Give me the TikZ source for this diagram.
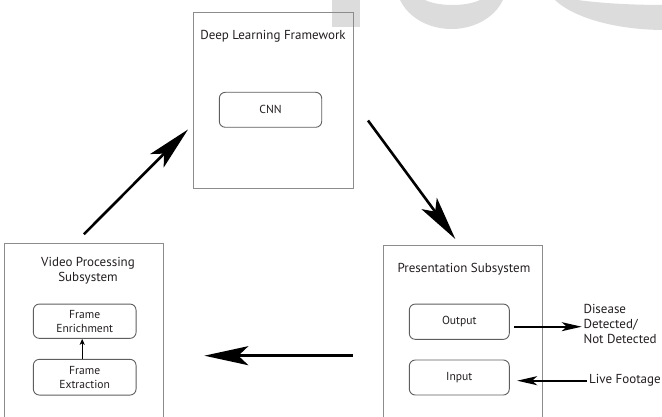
\documentclass[tikz,border=0pt]{standalone}
\usepackage{fontspec}
\setmainfont{PT Sans}
\usetikzlibrary{arrows.meta}
\definecolor{framegray}{HTML}{8C8C8C}
\definecolor{boxgray}{HTML}{5E5E5E}
\definecolor{inkc}{HTML}{231F20}
\definecolor{markgray}{HTML}{DCDCDC}
\begin{document}
\begin{tikzpicture}[x=1pt,y=-1pt,
  txt/.style={font=\fontsize{13}{15}\selectfont, text=inkc, inner sep=0pt, align=center},
  panel/.style={draw=framegray, line width=1pt, inner sep=0pt, anchor=north west},
  inbox/.style={draw=boxgray, line width=0.9pt, rounded corners=6pt, inner sep=0pt,
    font=\fontsize{11.6}{14}\selectfont, text=inkc, align=center},
  bigarrow/.style={draw=black, line width=2.6pt, -{Stealth[length=44pt, width=19pt, inset=10pt]}},
  smallarrow/.style={draw=black, line width=1.6pt, -{Stealth[length=20pt, width=9pt, inset=5pt]}},
  tinyarrow/.style={draw=black, line width=1pt, -{Stealth[length=6pt, width=5pt, inset=1.5pt]}}]
% page frame
\clip (0,0) rectangle (662,417);
\fill[white] (0,0) rectangle (662,417);
% faint background mark
\fill[markgray] (332,0) rectangle (360,27);
\fill[markgray, even odd rule] (451.5,-16) ellipse [x radius=55, y radius=45]
  (452.5,-7) ellipse [x radius=34, y radius=12];
\fill[markgray, even odd rule] (665,-20) ellipse [x radius=120, y radius=50]
  (665,-10) ellipse [x radius=117, y radius=15];

% subsystem panels
\node[panel, minimum width=160pt, minimum height=176pt] (dlf) at (193,12) {};
\node[panel, minimum width=158.7pt, minimum height=190pt] (vps) at (4,243.3) {};
\node[panel, minimum width=159pt, minimum height=190pt] (ps) at (383.3,245) {};

% panel titles
\node[txt] (dlft) at (273,36.5) {Deep Learning Framework};
\node[txt] (vpst) at (88,270.5) {Video Processing\\Subsystem};
\node[txt] (pst) at (464,269) {Presentation Subsystem};

% inner components
\node[inbox, minimum width=102.4pt, minimum height=35pt] (cnn) at (270.5,109.8) {CNN};
\node[inbox, minimum width=102.7pt, minimum height=34.3pt] (fen) at (84.7,321.2) {Frame\\Enrichment};
\node[inbox, minimum width=102.7pt, minimum height=35.7pt] (fex) at (84.7,377.2) {Frame\\Extraction};
\node[inbox, minimum width=100pt, minimum height=35.3pt] (out) at (459.3,321.7) {Output};
\node[inbox, minimum width=100pt, minimum height=35pt] (inp) at (459.3,377.5) {Input};

% external labels
\node[txt, align=left, anchor=west] (dis) at (583.3,324) {Disease\\Detected/\\Not Detected};
\node[txt, anchor=west] (lf) at (589,380) {Live Footage};

% flow between subsystems
\draw[bigarrow] ([yshift=9pt]vps.north) -- ([xshift=-5pt,yshift=-29pt]dlf.west);
\draw[bigarrow] ([xshift=14pt,yshift=-20pt]dlf.east) -- ([xshift=-8pt,yshift=6pt]ps.north);
\draw[bigarrow] ([xshift=-30.6pt,yshift=-110.7pt]ps.north west) -- ([xshift=40.6pt,yshift=-112.4pt]vps.north east);

% component links
\draw[tinyarrow] ([xshift=-2.5pt]fex.north) -- ([xshift=-2.5pt]fen.south);
\draw[smallarrow] ([xshift=4pt,yshift=-5pt]out.east) -- ([xshift=-1.6pt,yshift=-2.7pt]dis.west);
\draw[smallarrow] ([xshift=-2.3pt,yshift=-0.7pt]lf.west) -- ([xshift=7.4pt,yshift=-3.2pt]inp.east);
\end{tikzpicture}
\end{document}
